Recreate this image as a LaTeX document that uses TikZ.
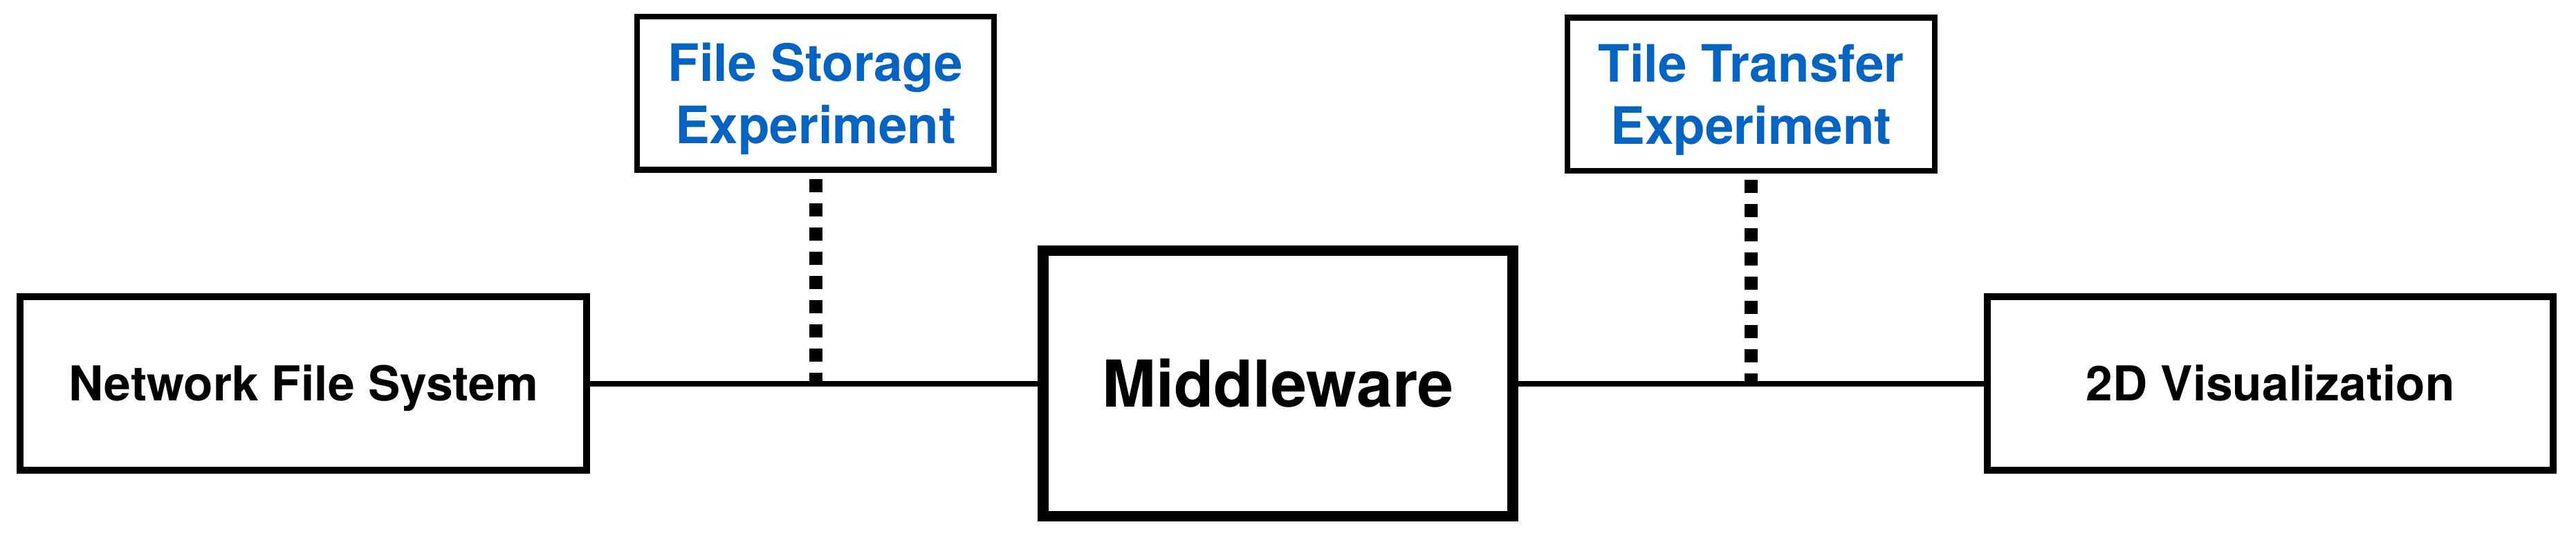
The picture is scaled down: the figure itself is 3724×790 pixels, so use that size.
\documentclass[tikz,border=0pt]{standalone}
\usepackage{fontspec}
\setmainfont{TeX Gyre Heros}
\definecolor{expblue}{RGB}{5,99,193}
\tikzset{
	sidebox/.style={draw,rectangle,line width=2pt,inner sep=0pt,minimum width=163.6pt,minimum height=50.2pt,font=\fontsize{13.9pt}{16pt}\selectfont\bfseries,text height=10pt,text depth=0pt},
	corebox/.style={draw,rectangle,line width=3.1pt,inner sep=0pt,minimum width=135.8pt,minimum height=76.8pt,font=\fontsize{18.7pt}{22pt}\selectfont\bfseries,text height=13.4pt,text depth=0pt},
	expbox/.style={draw,rectangle,line width=1.7pt,inner sep=0pt,minimum height=44.3pt,align=center,text=expblue,font=\fontsize{14.9pt}{18pt}\selectfont\bfseries,text depth=0pt},
	link/.style={line width=1.6pt},
	probe/.style={line width=3.8pt,dash pattern=on 3.8pt off 3.2pt}
}
\begin{document}
\begin{tikzpicture}[line join=miter,x=0.2pt,y=-0.2pt]
	\useasboundingbox (0,0) rectangle (3724,790);
	\node[sidebox] (nfs) at (438.5,554.5) {Network File System};
	\node[corebox] (mw) at (1847.5,554.5) {Middleware};
	\node[sidebox] (vis) at (3282,554.5) {2D Visualization};
	\node[expbox,minimum width=103.2pt] (fse) at (1179,134.5) {File Storage\\Experiment};
	\node[expbox,minimum width=106.2pt] (tte) at (2531.5,136) {Tile Transfer\\Experiment};
	\coordinate (fsjoin) at (fse.south |- nfs.east);
	\coordinate (ttjoin) at (tte.south |- vis.west);
	\draw[link] (nfs.east) -- (mw.west);
	\draw[link] (mw.east) -- (vis.west);
	\draw[probe] ([yshift=-1.8pt]fse.south) -- (fsjoin);
	\draw[probe] ([yshift=-1.8pt]tte.south) -- (ttjoin);
\end{tikzpicture}
\end{document}
